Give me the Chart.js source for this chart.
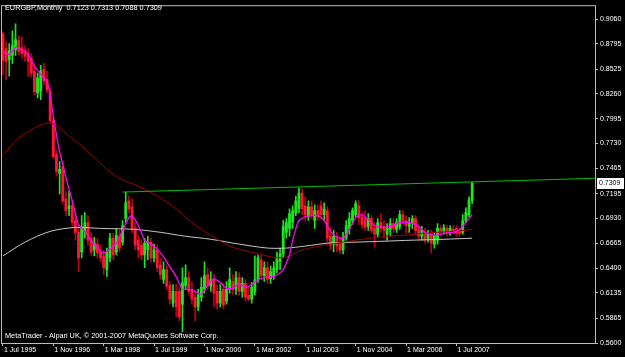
<!DOCTYPE html>
<html>
<head>
<meta charset="utf-8">
<title>EURGBP, Monthly</title>
<script src="https://cdn.jsdelivr.net/npm/chart.js@4.4.1/dist/chart.umd.min.js"></script>
<style>
  html, body { margin: 0; padding: 0; background: #000; overflow: hidden; }
  canvas { display: block; }
</style>
</head>
<body>
<canvas id="chartCanvas" width="625" height="357"></canvas>
<script>
// EURGBP monthly candles, Jul 1995 .. Dec 2007 (index 0 = Jul 1995)
const opens = [
  0.8902,0.8745,0.8629,0.8671,0.8734,0.8829,0.8755,0.8724,0.8692,0.8640,
  0.8503,0.8272,0.8293,0.8524,0.8419,0.8293,0.7978,0.7611,0.7412,0.7485,
  0.7139,0.7034,0.7065,0.6908,0.6782,0.6572,0.6782,0.6887,0.6719,0.6593,
  0.6656,0.6572,0.6530,0.6383,0.6509,0.6719,0.6572,0.6740,0.6677,0.6929,
  0.7118,0.7055,0.6824,0.6698,0.6645,0.6540,0.6593,0.6677,0.6509,0.6593,
  0.6435,0.6278,0.6383,0.6215,0.6026,0.6152,0.6152,0.6015,0.6215,0.6299,
  0.6173,0.6089,0.5984,0.6089,0.6173,0.6330,0.6204,0.6278,0.6152,0.6026,
  0.6173,0.6047,0.6173,0.6257,0.6173,0.6299,0.6152,0.6236,0.6110,0.6068,
  0.6152,0.6278,0.6488,0.6320,0.6404,0.6288,0.6320,0.6383,0.6467,0.6551,
  0.6782,0.6824,0.6887,0.6992,0.7034,0.7202,0.7065,0.6950,0.7055,0.6908,
  0.7013,0.7065,0.6971,0.7013,0.6740,0.6656,0.6740,0.6656,0.6593,0.6729,
  0.6824,0.6908,0.6971,0.7065,0.6950,0.6929,0.6845,0.6929,0.6824,0.6761,
  0.6887,0.6845,0.6761,0.6813,0.6876,0.6813,0.6845,0.6971,0.6908,0.6845,
  0.6887,0.6929,0.6813,0.6740,0.6782,0.6719,0.6761,0.6656,0.6698,0.6824,
  0.6792,0.6824,0.6782,0.6813,0.6824,0.6792,0.6782,0.6908,0.6971,0.7123
];
const highs = [
  0.8923,0.8818,0.8797,0.8934,0.9008,0.8881,0.8871,0.8776,0.8745,0.8692,
  0.8587,0.8482,0.8566,0.8587,0.8503,0.8325,0.8010,0.7663,0.7538,0.7538,
  0.7223,0.7223,0.7118,0.6992,0.6824,0.6960,0.6992,0.6960,0.6782,0.6729,
  0.6719,0.6645,0.6593,0.6614,0.6771,0.6771,0.6824,0.6803,0.6908,0.7212,
  0.7170,0.7139,0.6887,0.6750,0.6698,0.6719,0.6740,0.6719,0.6656,0.6645,
  0.6509,0.6467,0.6435,0.6257,0.6225,0.6225,0.6194,0.6404,0.6435,0.6362,
  0.6257,0.6152,0.6173,0.6299,0.6467,0.6404,0.6362,0.6330,0.6225,0.6225,
  0.6236,0.6257,0.6404,0.6330,0.6362,0.6351,0.6299,0.6278,0.6194,0.6246,
  0.6530,0.6540,0.6540,0.6467,0.6467,0.6425,0.6467,0.6572,0.6614,0.6908,
  0.6929,0.7034,0.7065,0.7170,0.7254,0.7244,0.7160,0.7118,0.7118,0.7076,
  0.7076,0.7118,0.7097,0.7055,0.6824,0.6803,0.6782,0.6740,0.6782,0.6908,
  0.6992,0.7044,0.7118,0.7118,0.6992,0.7013,0.6981,0.6960,0.6887,0.6929,
  0.6981,0.6908,0.6876,0.6929,0.6929,0.6929,0.7013,0.7013,0.6960,0.6939,
  0.6960,0.6960,0.6866,0.6845,0.6824,0.6803,0.6803,0.6782,0.6876,0.6855,
  0.6866,0.6855,0.6855,0.6855,0.6855,0.6824,0.6971,0.7044,0.7160,0.7313
];
const lows = [
  0.8462,0.8409,0.8451,0.8587,0.8671,0.8671,0.8640,0.8608,0.8451,0.8440,
  0.8251,0.8220,0.8199,0.8357,0.8272,0.7957,0.7569,0.7380,0.7191,0.7086,
  0.6960,0.6960,0.6855,0.6698,0.6362,0.6509,0.6719,0.6645,0.6540,0.6530,
  0.6509,0.6467,0.6330,0.6309,0.6467,0.6488,0.6540,0.6572,0.6645,0.6887,
  0.6992,0.6782,0.6593,0.6509,0.6488,0.6404,0.6488,0.6467,0.6467,0.6362,
  0.6278,0.6236,0.6173,0.6015,0.5984,0.5879,0.5836,0.5721,0.6173,0.6120,
  0.6015,0.5836,0.5942,0.6047,0.6131,0.6173,0.6152,0.5984,0.5963,0.5984,
  0.5963,0.6015,0.6131,0.6120,0.6120,0.6110,0.6089,0.6047,0.6047,0.6026,
  0.6110,0.6246,0.6278,0.6257,0.6236,0.6236,0.6278,0.6351,0.6383,0.6509,
  0.6719,0.6740,0.6824,0.6960,0.6992,0.6971,0.6908,0.6908,0.6929,0.6824,
  0.6908,0.6929,0.6908,0.6677,0.6593,0.6572,0.6572,0.6551,0.6551,0.6698,
  0.6761,0.6866,0.6950,0.6866,0.6824,0.6803,0.6803,0.6771,0.6624,0.6729,
  0.6782,0.6719,0.6698,0.6740,0.6782,0.6782,0.6813,0.6866,0.6771,0.6782,
  0.6824,0.6761,0.6698,0.6698,0.6666,0.6677,0.6561,0.6614,0.6656,0.6740,
  0.6761,0.6740,0.6750,0.6761,0.6740,0.6740,0.6761,0.6887,0.6950,0.7088
];
const closes = [
  0.8619,0.8608,0.8724,0.8776,0.8840,0.8713,0.8692,0.8661,0.8608,0.8482,
  0.8283,0.8430,0.8503,0.8398,0.8304,0.7978,0.7590,0.7433,0.7454,0.7118,
  0.7013,0.7065,0.6887,0.6782,0.6509,0.6824,0.6887,0.6698,0.6572,0.6666,
  0.6561,0.6509,0.6404,0.6572,0.6719,0.6540,0.6750,0.6614,0.6855,0.7097,
  0.7034,0.6824,0.6645,0.6593,0.6540,0.6666,0.6677,0.6509,0.6593,0.6404,
  0.6330,0.6383,0.6204,0.6068,0.6152,0.5984,0.5879,0.6246,0.6299,0.6152,
  0.6068,0.5984,0.6110,0.6194,0.6320,0.6215,0.6278,0.6131,0.6026,0.6152,
  0.6005,0.6173,0.6278,0.6173,0.6299,0.6152,0.6236,0.6089,0.6068,0.6194,
  0.6278,0.6509,0.6320,0.6404,0.6278,0.6362,0.6404,0.6509,0.6551,0.6845,
  0.6887,0.6981,0.7013,0.7118,0.7202,0.7034,0.6971,0.7055,0.6971,0.7013,
  0.6950,0.6971,0.7034,0.6719,0.6645,0.6740,0.6635,0.6593,0.6729,0.6855,
  0.6929,0.7013,0.7086,0.6939,0.6866,0.6834,0.6929,0.6803,0.6761,0.6887,
  0.6824,0.6803,0.6824,0.6876,0.6824,0.6887,0.6971,0.6908,0.6855,0.6887,
  0.6929,0.6803,0.6740,0.6803,0.6698,0.6761,0.6666,0.6740,0.6824,0.6792,
  0.6834,0.6782,0.6824,0.6782,0.6771,0.6771,0.6908,0.6992,0.7128,0.7309
];

// moving averages at these bar indices
const fastMaIdx = [0,2,4,6,8,10,12,14,15,16,17,18,19,20,22,24,26,28,30,32,34,36,38,40,41,43,45,47,49,51,53,55,57,59,61,63,65,67,69,71,73,75,77,79,81,83,86,88,89,90,91,92,93,94,96,98,100,102,104,106,108,110,112,114,116,118,120,123,126,129,132,134,137,140,143,145,147,149];
const fastMaVal = [0.8713,0.8682,0.8755,0.8734,0.8682,0.8556,0.8472,0.8388,0.8252,0.8021,0.7821,0.7643,0.7506,0.7370,0.7118,0.6866,0.6792,0.6698,0.6614,0.6561,0.6603,0.6666,0.6803,0.6939,0.6960,0.6855,0.6698,0.6656,0.6603,0.6519,0.6414,0.6309,0.6173,0.6173,0.6152,0.6120,0.6215,0.6288,0.6246,0.6183,0.6183,0.6236,0.6194,0.6225,0.6278,0.6299,0.6309,0.6351,0.6383,0.6456,0.6540,0.6698,0.6824,0.6908,0.6950,0.6960,0.6960,0.6908,0.6792,0.6729,0.6719,0.6813,0.6939,0.6971,0.6918,0.6855,0.6834,0.6845,0.6887,0.6887,0.6845,0.6782,0.6750,0.6771,0.6782,0.6813,0.6887,0.6971];

const midMaIdx = [0,5,10,14,17,21,25,29,33,37,43,49,55,60,64,68,72,76,80,87,91,95,102,108,114,122,127,133,138,143,149];
const midMaVal = [0.7611,0.7790,0.7895,0.7947,0.7926,0.7810,0.7705,0.7580,0.7454,0.7359,0.7275,0.7170,0.7034,0.6887,0.6792,0.6708,0.6635,0.6593,0.6561,0.6509,0.6530,0.6593,0.6645,0.6677,0.6708,0.6740,0.6750,0.6771,0.6782,0.6792,0.6813];

const slowMaIdx = [0,7,15,23,31,42,50,58,66,75,84,90,96,103,112,121,130,140,149];
const slowMaVal = [0.6530,0.6677,0.6792,0.6834,0.6824,0.6813,0.6782,0.6740,0.6708,0.6656,0.6614,0.6614,0.6635,0.6666,0.6677,0.6687,0.6698,0.6708,0.6719];

// resistance trend line (bar index -> price)
const trendIdx = [38, 188];
const trendVal = [0.7212, 0.7359];

// axes
const yTickValues = [0.9060,0.8795,0.8525,0.8260,0.7995,0.7730,0.7465,0.7195,0.6930,0.6665,0.6400,0.6135,0.5865,0.5600];
const xTickIdx = [0,16,32,48,64,80,96,112,128,144];
const xTickLabels = ['1 Jul 1995','1 Nov 1996','1 Mar 1998','1 Jul 1999','1 Nov 2000','1 Mar 2002','1 Jul 2003','1 Nov 2004','1 Mar 2006','1 Jul 2007'];

const titleText = 'EURGBP,Monthly  0.7123 0.7313 0.7088 0.7309';
const footText = 'MetaTrader - Alpari UK, \u00A9 2001-2007 MetaQuotes Software Corp.';

const BULL = '#1ee61e', BEAR = '#ff1434', BEAR_WICK = '#c0001c';
const FONT = '"Liberation Sans", Arial, sans-serif';

const isUp = closes.map((c, i) => c >= opens[i]);
const pts = (xs, ys) => xs.map((x, i) => ({ x, y: ys[i] }));

// background, frame, header/footer text and last price tag
const mtChrome = {
  id: 'mtChrome',
  beforeDraw(chart) {
    const ctx = chart.ctx;
    ctx.save();
    ctx.fillStyle = '#000';
    ctx.fillRect(0, 0, chart.width, chart.height);
    ctx.restore();
  },
  afterDraw(chart) {
    const { ctx, chartArea: a } = chart;
    ctx.save();
    ctx.strokeStyle = '#bdbdbd';
    ctx.lineWidth = 1;
    ctx.strokeRect(a.left - 0.5, a.top - 0.5, a.right - a.left + 1, a.bottom - a.top + 1);
    ctx.fillStyle = '#fff';
    ctx.font = '7.3px ' + FONT;
    ctx.textBaseline = 'middle';
    ctx.textAlign = 'left';
    ctx.fillText(titleText, 5, 8);
    ctx.fillText(footText, 5, 336);
    // last price tag
    const last = closes[closes.length - 1];
    const py = Math.round(chart.scales.y.getPixelForValue(last));
    ctx.fillRect(597, py - 5, 27, 11);
    ctx.fillStyle = '#000';
    ctx.font = '7px ' + FONT;
    ctx.fillText(last.toFixed(4), 599, py + 0.5);
    ctx.restore();
  }
};

new Chart(document.getElementById('chartCanvas'), {
  type: 'bar',
  data: {
    datasets: [
      { type: 'line', data: pts(trendIdx, trendVal), borderColor: '#00c000', borderWidth: 1, pointRadius: 0, order: 0 },
      { type: 'line', data: pts(fastMaIdx, fastMaVal), borderColor: '#ff00ff', borderWidth: 1.3, pointRadius: 0, tension: 0.2, order: 0 },
      { type: 'line', data: pts(midMaIdx, midMaVal), borderColor: '#a00000', borderWidth: 1, pointRadius: 0, tension: 0.3, order: 1 },
      { type: 'line', data: pts(slowMaIdx, slowMaVal), borderColor: '#c8c8c8', borderWidth: 1, pointRadius: 0, tension: 0.3, order: 1 },
      { data: opens.map((o, i) => ({ x: i, y: [o, closes[i]] })), backgroundColor: isUp.map(u => u ? BULL : BEAR),
        barThickness: 2.2, minBarLength: 1, grouped: false, order: 2 },
      { data: lows.map((l, i) => ({ x: i, y: [l, highs[i]] })), backgroundColor: isUp.map(u => u ? BULL : BEAR_WICK),
        barThickness: 1, grouped: false, order: 3 }
    ]
  },
  options: {
    responsive: false,
    devicePixelRatio: 1,
    animation: false,
    events: [],
    layout: { padding: { left: 2, top: 2, right: 0, bottom: 0 } },
    plugins: { legend: { display: false }, tooltip: { enabled: false } },
    scales: {
      x: {
        type: 'linear', min: -0.3, max: 188, offset: false,
        afterFit: s => { s.height = 14; },
        afterBuildTicks: s => { s.ticks = xTickIdx.map(v => ({ value: v })); },
        grid: { display: true, offset: false, drawOnChartArea: false, drawTicks: true, tickLength: 3, color: '#bdbdbd' },
        border: { display: false },
        ticks: { autoSkip: false, maxRotation: 0, align: 'start', padding: 0, labelOffset: 1,
          color: '#fff', font: { family: FONT, size: 7 }, callback: (v, i) => xTickLabels[i] }
      },
      y: {
        type: 'linear', position: 'right', min: 0.5600, max: 0.9197,
        afterFit: s => { s.width = 30; },
        afterBuildTicks: s => { s.ticks = yTickValues.map(v => ({ value: v })); },
        grid: { display: true, drawOnChartArea: false, drawTicks: true, tickLength: 3, color: '#bdbdbd' },
        border: { display: false },
        ticks: { autoSkip: false, padding: 2, color: '#fff', font: { family: FONT, size: 7 },
          callback: v => v.toFixed(4) }
      }
    }
  },
  plugins: [mtChrome]
});
</script>
</body>
</html>
